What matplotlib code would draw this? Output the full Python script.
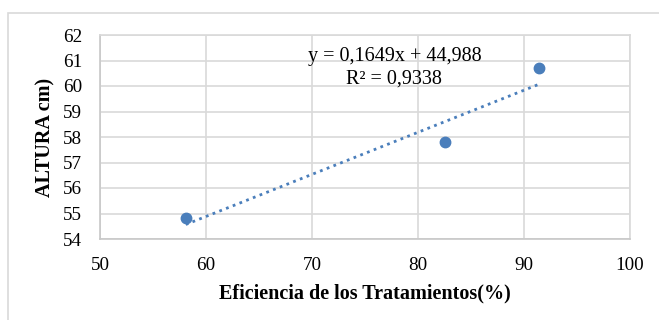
import matplotlib
matplotlib.use("Agg")
import matplotlib.pyplot as plt
from matplotlib.patches import Rectangle
import numpy as np

# Data
eficiencia = [58.1, 82.55, 91.45]
altura = [54.81, 57.79, 60.72]
slope = 0.1649
intercept = 44.988
r2 = 0.9338
x_ticks = [50, 60, 70, 80, 90, 100]
y_ticks = [54, 55, 56, 57, 58, 59, 60, 61, 62]

blue = "#4a7ebb"
grid = "#d9d9d9"

plt.rcParams["font.family"] = ["Liberation Serif", "DejaVu Serif"]

fig = plt.figure(figsize=(6.59, 3.2), dpi=100)
# chart frame
fig.patches.append(Rectangle((8 / 659, -0.1), 2.0, (320 - 13) / 320 + 0.1,
                             transform=fig.transFigure, fill=False,
                             edgecolor="#d9d9d9", linewidth=1.2))

ax = fig.add_axes([100 / 659, 81 / 320, 529.5 / 659, 204 / 320])
ax.set_xlim(50, 100)
ax.set_ylim(54, 62)
ax.set_xticks(x_ticks)
ax.set_yticks(y_ticks)
ax.grid(True, color=grid, linewidth=1.2)
ax.set_axisbelow(True)
for s in ax.spines.values():
    s.set_color(grid)
    s.set_linewidth(1.2)
ax.spines["left"].set_color("#c8c8c8")
ax.spines["bottom"].set_color("#c8c8c8")
ax.tick_params(length=0, labelsize=13.8)
ax.tick_params(axis="x", pad=13)
ax.tick_params(axis="y", pad=13)

# trend line from the stated equation
xt = np.array([min(eficiencia), max(eficiencia)])
ax.plot(xt, slope * xt + intercept, linestyle=(0, (1, 1.6)), color=blue,
        linewidth=2, zorder=2)
ax.plot(eficiencia, altura, "o", color=blue, markersize=7.5, zorder=3)

eq = "y = " + f"{slope:.4f}".replace(".", ",") + "x + " + f"{intercept:.3f}".replace(".", ",")
r2_txt = "R² = " + f"{r2:.4f}".replace(".", ",")
ax.text(77.8, 61.14, eq, ha="center", va="center", fontsize=14.5)
ax.text(77.8, 60.27, r2_txt, ha="center", va="center", fontsize=14.5)

ax.set_xlabel("Eficiencia de los Tratamientos(%)", fontsize=14.5,
              fontweight="bold", labelpad=7)
ax.set_ylabel("ALTURA cm)", fontsize=14.5, fontweight="bold", labelpad=5)

fig.savefig("out.png", dpi=100)
